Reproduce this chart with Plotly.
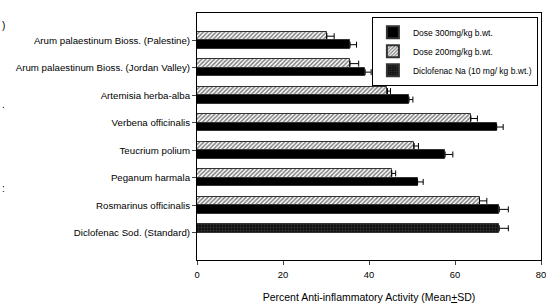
import plotly.graph_objects as go

categories = [
    "Diclofenac Sod. (Standard)",
    "Rosmarinus officinalis",
    "Peganum harmala",
    "Teucrium polium",
    "Verbena officinalis",
    "Artemisia herba-alba",
    "Arum palaestinum Bioss. (Jordan Valley)",
    "Arum palaestinum Bioss. (Palestine)",
]
plant_categories = categories[1:]

dose300 = [70.3, 51.3, 57.7, 69.7, 49.3, 39.1, 35.6]
dose300_sd = [2.1, 1.3, 1.8, 1.5, 0.9, 1.4, 1.5]
dose200 = [65.7, 45.3, 50.5, 63.7, 44.3, 35.6, 30.2]
dose200_sd = [1.7, 0.9, 1.0, 1.5, 0.7, 2.0, 1.7]
diclo = [70.3]
diclo_sd = [2.1]
diclo_cat = categories[:1]

x_ticks = [0, 20, 40, 60, 80]

W = 0.31
font = "Liberation Sans, Arial, sans-serif"

def err(sd):
    return dict(type="data", array=sd, arrayminus=[0] * len(sd), symmetric=False,
                color="black", thickness=1, width=3)

fig = go.Figure()
fig.add_trace(go.Bar(
    name="Dose 300mg/kg b.wt.", y=plant_categories, x=dose300, orientation="h",
    width=W, offset=-W, error_x=err(dose300_sd),
    marker=dict(color="black", line=dict(color="#333333", width=1)),
))
fig.add_trace(go.Bar(
    name="Dose 200mg/kg b.wt.", y=plant_categories, x=dose200, orientation="h",
    width=W, offset=0, error_x=err(dose200_sd),
    marker=dict(color="white", line=dict(color="#333333", width=1),
                pattern=dict(shape="/", fgcolor="black", bgcolor="white", size=3, solidity=0.5)),
))
fig.add_trace(go.Bar(
    name="Diclofenac Na (10 mg/ kg b.wt.)", y=diclo_cat, x=diclo, orientation="h",
    width=W, offset=0, error_x=err(diclo_sd),
    marker=dict(color="#222222", line=dict(color="#333333", width=1),
                pattern=dict(shape=".", fgcolor="#555555", bgcolor="#111111", size=3, solidity=0.3)),
))

fig.update_layout(
    width=546, height=303,
    margin=dict(l=197, r=5, t=13, b=43),
    paper_bgcolor="white", plot_bgcolor="white",
    font=dict(family=font, size=9.7, color="black"),
    showlegend=True,
    legend=dict(x=0.991, y=0.985, xanchor="right", yanchor="top",
                bordercolor="black", borderwidth=1, bgcolor="white",
                font=dict(size=8.5, family=font), traceorder="normal",
                tracegroupgap=0, itemsizing="constant"),
    bargap=0,
)
fig.update_xaxes(
    range=[0, 80], tickvals=x_ticks, ticks="outside", ticklen=4, tickwidth=1,
    showline=True, linecolor="black", linewidth=1, mirror=True, showgrid=False,
    zeroline=False, tickfont=dict(size=9.4), automargin=False, ticklabelstandoff=2,
    ticklabeloverflow="allow",
    title=dict(text="Percent Anti-inflammatory Activity (Mean<u>+</u>SD)",
               font=dict(size=10.5), standoff=14),
)
fig.update_yaxes(
    type="category", categoryorder="array", categoryarray=categories,
    range=[-1, 8], ticks="outside", ticklen=4, tickwidth=1,
    showline=True, linecolor="black", linewidth=1, mirror=True, showgrid=False,
    zeroline=False, tickfont=dict(size=9.7), automargin=False,
)

for txt, ypix in [(")", 25), (".", 104), (":", 188)]:
    fig.add_annotation(text=txt, xref="paper", yref="paper",
                       x=-197 / 344, y=(260 - ypix) / 247, xanchor="left", yanchor="middle",
                       showarrow=False, font=dict(size=10, color="black"))

fig.write_html("out.html", config={"displayModeBar": False},
               post_script="document.body.style.margin='0px';")
